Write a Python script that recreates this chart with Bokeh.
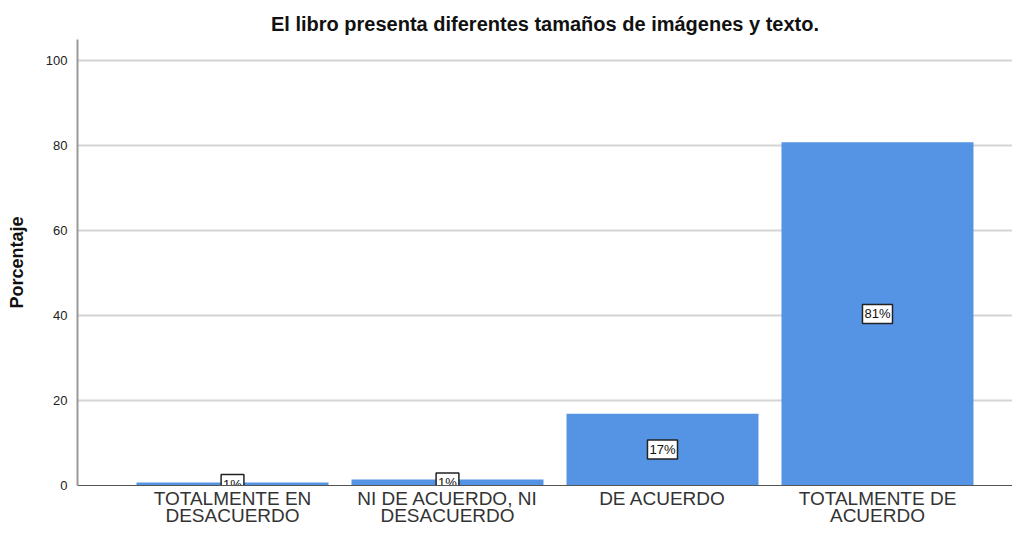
from bokeh.plotting import figure
from bokeh.models import ColumnDataSource, Range1d, FixedTicker, Title
from bokeh.core.properties import value
from bokeh.embed import file_html
from bokeh.resources import INLINE

categories = ["TOTALMENTE EN\nDESACUERDO", "NI DE ACUERDO, NI\nDESACUERDO", "DE ACUERDO", "TOTALMENTE DE\nACUERDO"]
values = [0.7, 1.4, 16.9, 80.8]
labels = ["1%", "1%", "17%", "81%"]
y_ticks = [0, 20, 40, 60, 80, 100]
title_text = "El libro presenta diferentes tamaños de imágenes y texto."

FONT = "Liberation Sans"
xs = [i + 0.5 for i in range(len(categories))]
src = ColumnDataSource(dict(x=xs, top=values, mid=[v / 2 for v in values], lab=labels))

p = figure(width=1012, height=529, output_backend="svg", toolbar_location=None,
           x_range=Range1d(-0.221, 4.128), y_range=Range1d(0, 105),
           min_border_left=77, min_border_right=0, min_border_bottom=40, min_border_top=0)
p.title = None
main_title = Title(text=title_text, align="center", text_font=FONT, text_font_size="20px",
                   text_font_style="bold", text_color="#111111", standoff=10, offset=0)
spacer = Title(text=" ", text_font_size="3px", standoff=0)
p.add_layout(main_title, "above")
p.add_layout(spacer, "above")
p.outline_line_color = None
p.background_fill_color = "white"

p.vbar(x="x", top="top", bottom=0, width=0.893, source=src,
       fill_color="#5594E4", line_color=None)

p.text(x="x", y="mid", text="lab", source=src, text_align="center",
       text_baseline="middle", text_font=value(FONT), text_font_size="13px",
       text_color="#111111", background_fill_color="white",
       border_line_color="#222222", border_line_width=1.5, padding=2)

p.xgrid.grid_line_color = None
p.ygrid.grid_line_color = "#d4d4d4"
p.ygrid.grid_line_width = 2
p.yaxis.ticker = FixedTicker(ticks=y_ticks)
p.yaxis.axis_label = "Porcentaje"
p.yaxis.axis_label_text_font = FONT
p.yaxis.axis_label_text_font_size = "18px"
p.yaxis.axis_label_text_font_style = "bold"
p.yaxis.axis_label_text_color = "#111111"
p.yaxis.axis_label_standoff = 16
p.yaxis.major_label_text_font = FONT
p.yaxis.major_label_text_font_size = "13px"
p.yaxis.major_label_text_color = "#222222"
p.yaxis.major_tick_line_color = None
p.yaxis.minor_tick_line_color = None
p.yaxis.major_tick_out = 0
p.yaxis.major_tick_in = 0
p.yaxis.minor_tick_out = 0
p.yaxis.minor_tick_in = 0
p.yaxis.axis_line_color = "#999999"
p.yaxis.axis_line_width = 2
p.yaxis.major_label_standoff = 10

p.xaxis.ticker = FixedTicker(ticks=xs)
p.xaxis.major_label_overrides = {x: c for x, c in zip(xs, categories)}
p.xaxis.major_label_text_font = FONT
p.xaxis.major_label_text_font_size = "19px"
p.xaxis.major_label_text_color = "#333333"
p.xaxis.major_label_text_line_height = 0.85
p.xaxis.major_tick_line_color = None
p.xaxis.minor_tick_line_color = None
p.xaxis.major_tick_out = 0
p.xaxis.major_tick_in = 0
p.xaxis.minor_tick_out = 0
p.xaxis.minor_tick_in = 0
p.xaxis.axis_label = None
p.xaxis.axis_label_standoff = 0
p.xaxis.axis_line_color = "#555555"
p.xaxis.axis_line_width = 1
p.xaxis.major_label_standoff = 2

open("out.html", "w").write(file_html(p, INLINE))
